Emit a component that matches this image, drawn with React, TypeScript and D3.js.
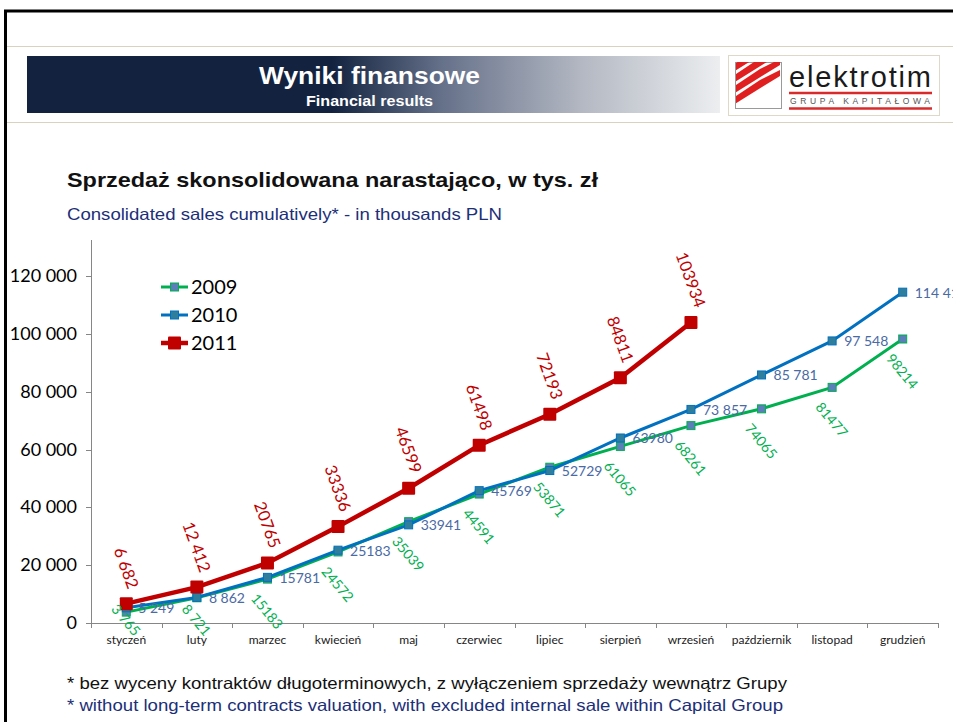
import React from "react";
import * as d3 from "d3";

const months = ["styczeń", "luty", "marzec", "kwiecień", "maj", "czerwiec", "lipiec", "sierpień", "wrzesień", "październik", "listopad", "grudzień"];
const sales2009 = [3765, 8721, 15183, 24572, 35039, 44591, 53871, 61065, 68261, 74065, 81477, 98214];
const labels2009 = ["3 765", "8 721", "15183", "24572", "35039", "44591", "53871", "61065", "68261", "74065", "81477", "98214"];
const sales2010 = [5249, 8862, 15781, 25183, 33941, 45769, 52729, 63980, 73857, 85781, 97548, 114410];
const labels2010 = ["5 249", "8 862", "15781", "25183", "33941", "45769", "52729", "63980", "73 857", "85 781", "97 548", "114 410"];
const sales2011 = [6682, 12412, 20765, 33336, 46599, 61498, 72193, 84811, 103934];
const labels2011 = ["6 682", "12 412", "20765", "33336", "46599", "61498", "72193", "84811", "103934"];
const seriesNames = ["2009", "2010", "2011"];

const FONT = "Lato, 'Open Sans', sans-serif";
const ARIAL = "'Liberation Sans', Arial, sans-serif";

function estWidth(s: string, fs: number) {
  let w = 0;
  for (const c of s) w += c === " " ? 0.25 : 0.58;
  return w * fs;
}

export default function App() {
  const W = 953, H = 722;
  const x = d3.scaleBand<string>().domain(months).range([91, 938]);
  const y = d3.scaleLinear().domain([0, 120000]).range([623, 276]);
  const cx = (i: number) => (x(months[i]) as number) + x.bandwidth() / 2;
  const line = d3.line<number>().x((_, i) => cx(i)).y((v) => y(v));
  const fmt = (v: number) => d3.format(",")(v).replace(/,/g, " ");
  const yTicks = y.ticks(6);

  const c2009 = "#00b050", c2010 = "#0070c0", c2011 = "#c00000";

  const red2011Fs = 16.5, green2009Fs = 14, blue2010Fs = 14;
  const plotBottom = 638;

  return (
    <svg width={W} height={H} style={{ position: "absolute", left: 0, top: 0, background: "#fff" }}>
      <defs>
        <linearGradient id="hdr" x1="27" x2="720" y1="0" y2="0" gradientUnits="userSpaceOnUse">
          <stop offset="0" stopColor="#13233f" />
          <stop offset="0.44" stopColor="#13233f" />
          <stop offset="0.6" stopColor="#66718a" />
          <stop offset="0.8" stopColor="#b3b8c2" />
          <stop offset="1" stopColor="#eceef0" />
        </linearGradient>
        <clipPath id="iconclip"><rect x={736} y={62} width={45} height={46} /></clipPath>
      </defs>
      <rect x={0} y={0} width={W} height={H} fill="#fff" />
      {/* frame */}
      <line x1={4} x2={W} y1={11} y2={11} stroke="#000" strokeWidth={3} />
      <line x1={5.5} x2={5.5} y1={10} y2={H} stroke="#000" strokeWidth={3} />
      <line x1={7} x2={W} y1={46.5} y2={46.5} stroke="#d9d3bd" strokeWidth={1} />
      <line x1={7} x2={W} y1={122.5} y2={122.5} stroke="#d9d3bd" strokeWidth={1} />

      {/* header */}
      <rect x={27} y={56} width={693} height={57} fill="url(#hdr)" />
      <text x={259} y={84} fill="#fff" fontFamily={ARIAL} fontWeight="bold" fontSize={23} textLength={221} lengthAdjust="spacingAndGlyphs">Wyniki finansowe</text>
      <text x={306} y={106} fill="#fff" fontFamily={ARIAL} fontWeight="bold" fontSize={14} textLength={127} lengthAdjust="spacingAndGlyphs">Financial results</text>

      {/* logo */}
      <rect x={728.5} y={55.5} width={211} height={60} fill="#fff" stroke="#ddd8c8" />
      <rect x={735.5} y={62.5} width={46} height={46} fill="#fff" stroke="#9a9a9a" />
      <g clipPath="url(#iconclip)" fill="#e02020">
        {[0, 1, 2, 3].map((k) => (
          <polygon key={k} points={`${730},${100 - k * 11} ${760},${80 - k * 11} ${780},${70 - k * 11} ${780},${76 - k * 11} ${762},${87 - k * 11} ${730},${107 - k * 11}`} />
        ))}
      </g>
      <text x={789} y={87} fill="#1a1a1a" fontFamily={ARIAL} fontSize={29} textLength={142}>elektrotim</text>
      <line x1={789} x2={932} y1={93} y2={93} stroke="#d92b2b" strokeWidth={2.5} />
      <text x={790} y={104} fill="#555" fontFamily={ARIAL} fontSize={8.5} textLength={140} lengthAdjust="spacing">GRUPA KAPITAŁOWA</text>
      <line x1={789} x2={932} y1={108.5} y2={108.5} stroke="#d92b2b" strokeWidth={2.5} />

      {/* titles */}
      <text x={67} y={187} fill="#111" fontFamily={ARIAL} fontWeight="bold" fontSize={21} textLength={531} lengthAdjust="spacingAndGlyphs">Sprzedaż skonsolidowana narastająco, w tys. zł</text>
      <text x={67} y={220} fill="#1c2f78" fontFamily={ARIAL} fontSize={16.5} textLength={435} lengthAdjust="spacingAndGlyphs">Consolidated sales cumulatively* - in thousands PLN</text>

      {/* axes */}
      <line x1={91.5} x2={91.5} y1={240} y2={623} stroke="#868686" />
      {yTicks.map((t) => (
        <g key={t}>
          <line x1={86} x2={91} y1={Math.round(y(t)) + 0.5} y2={Math.round(y(t)) + 0.5} stroke="#868686" />
          <text x={77} y={y(t) + 6} fontFamily={FONT} fontSize={18} fill="#000" textAnchor="end">{fmt(t)}</text>
        </g>
      ))}
      <line x1={91} x2={938} y1={623.5} y2={623.5} stroke="#868686" />
      {months.map((m, i) => (
        <g key={m}>
          <line x1={Math.round(x(m) as number) + 0.5} x2={Math.round(x(m) as number) + 0.5} y1={623} y2={628} stroke="#868686" />
          <text x={cx(i)} y={644} fontFamily={FONT} fontSize={12} fill="#1a1a1a" textAnchor="middle">{m}</text>
        </g>
      ))}
      <line x1={938.5} x2={938.5} y1={623} y2={628} stroke="#868686" />

      {/* series 2009 */}
      <path d={line(sales2009) as string} fill="none" stroke={c2009} strokeWidth={3} />
      {sales2009.map((v, i) => (
        <rect key={i} x={cx(i) - 4} y={y(v) - 4} width={8} height={8} fill="#5b7fb8" stroke={c2009} strokeWidth={1} />
      ))}
      {/* series 2010 */}
      <path d={line(sales2010) as string} fill="none" stroke={c2010} strokeWidth={3} />
      {sales2010.map((v, i) => (
        <rect key={i} x={cx(i) - 4} y={y(v) - 4} width={8} height={8} fill="#2f7f9c" stroke={c2010} strokeWidth={1} />
      ))}
      {/* series 2011 */}
      <path d={line(sales2011) as string} fill="none" stroke={c2011} strokeWidth={4.5} />
      {sales2011.map((v, i) => (
        <rect key={i} x={cx(i) - 6.5} y={y(v) - 6.5} width={13} height={13} rx={1} fill={c2011} />
      ))}

      {/* labels 2009 */}
      {sales2009.map((v, i) => {
        const w = estWidth(labels2009[i], green2009Fs);
        const a = (50 * Math.PI) / 180;
        const bh = w * Math.sin(a) + green2009Fs * Math.cos(a);
        const ly = Math.min(y(v) + 12 + bh / 2, plotBottom - bh / 2);
        return (
          <text key={i} x={cx(i)} y={ly} transform={`rotate(50 ${cx(i)} ${ly})`} fontFamily={FONT} fontSize={green2009Fs} fill={c2009} textAnchor="middle" dominantBaseline="central">{labels2009[i]}</text>
        );
      })}
      {/* labels 2010 */}
      {sales2010.map((v, i) => (
        <text key={i} x={cx(i) + 12} y={y(v)} fontFamily={FONT} fontSize={blue2010Fs} fill="#4a6aa5" dominantBaseline="central">{labels2010[i]}</text>
      ))}
      {/* labels 2011 */}
      {sales2011.map((v, i) => {
        const w = estWidth(labels2011[i], red2011Fs);
        const a = (70 * Math.PI) / 180;
        const bh = w * Math.sin(a) + red2011Fs * Math.cos(a);
        const ly = y(v) - 13 - bh / 2;
        return (
          <text key={i} x={cx(i)} y={ly} transform={`rotate(70 ${cx(i)} ${ly})`} fontFamily={FONT} fontSize={red2011Fs} fill={c2011} textAnchor="middle" dominantBaseline="central">{labels2011[i]}</text>
        );
      })}

      {/* legend */}
      {seriesNames.map((s, k) => {
        const ly = 287 + k * 28;
        const col = [c2009, c2010, c2011][k];
        const fillc = ["#5b7fb8", "#2f7f9c", c2011][k];
        const big = k === 2;
        return (
          <g key={s}>
            <line x1={161} x2={188} y1={ly} y2={ly} stroke={col} strokeWidth={big ? 4.5 : 3} />
            {big ? (
              <rect x={174.5 - 6.5} y={ly - 6.5} width={13} height={13} rx={1} fill={c2011} />
            ) : (
              <rect x={174.5 - 4} y={ly - 4} width={8} height={8} fill={fillc} stroke={col} />
            )}
            <text x={191} y={ly + 7} fontFamily={FONT} fontSize={20} fill="#000">{s}</text>
          </g>
        );
      })}

      {/* footnotes */}
      <text x={67} y={689} fill="#111" fontFamily={ARIAL} fontSize={16.5} textLength={720} lengthAdjust="spacingAndGlyphs">* bez wyceny kontraktów długoterminowych, z wyłączeniem sprzedaży wewnątrz Grupy</text>
      <text x={67} y={711} fill="#1c2f78" fontFamily={ARIAL} fontSize={16.5} textLength={716} lengthAdjust="spacingAndGlyphs">* without long-term contracts valuation, with excluded internal sale within Capital Group</text>
    </svg>
  );
}
